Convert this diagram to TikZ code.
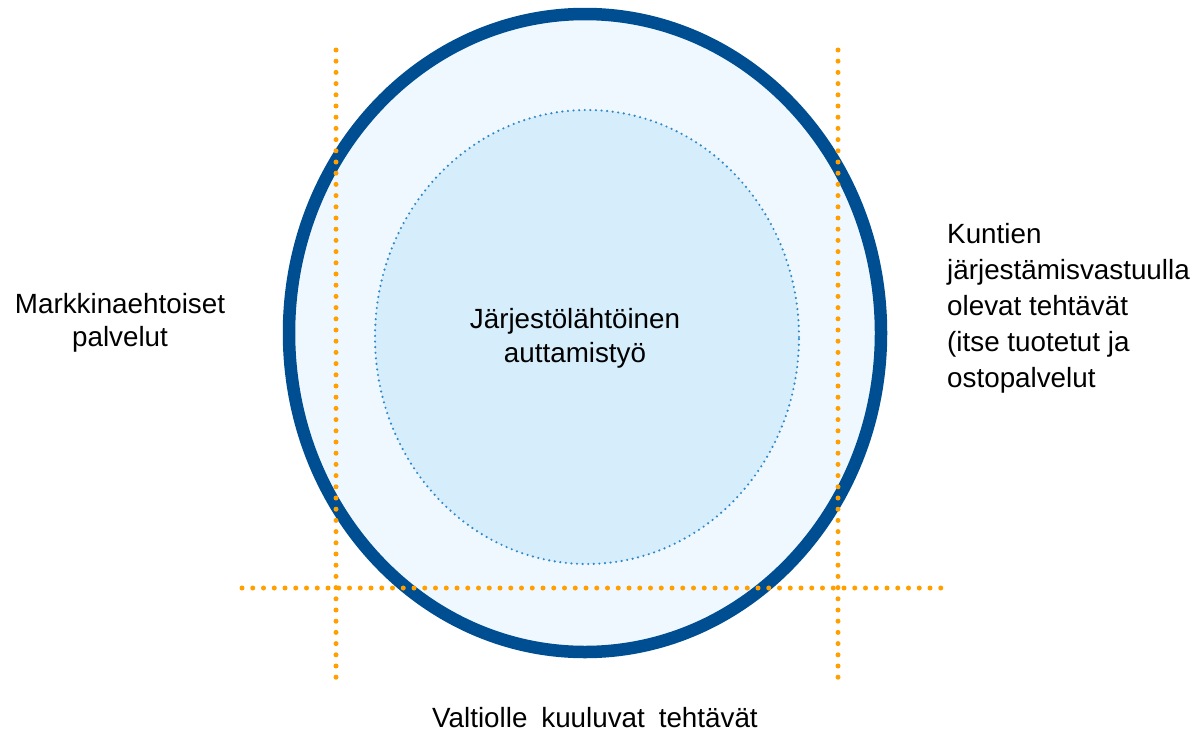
\documentclass[tikz,border=0pt]{standalone}
\usepackage{fontspec}
\setmainfont{Liberation Sans}
\definecolor{outerblue}{HTML}{004E92}
\definecolor{outerfill}{HTML}{F0F8FF}
\definecolor{innerfill}{HTML}{D6EEFC}
\definecolor{innerdot}{HTML}{2F87C8}
\definecolor{guide}{HTML}{FFA000}
\tikzset{
  guideline/.style={draw=guide, line width=5pt, line cap=round, dash pattern=on 0pt off 11.2pt},
  lbl/.style={inner sep=0pt, font=\fontsize{27.8}{36}\selectfont},
}
\begin{document}
\begin{tikzpicture}[x=1pt,y=-1pt]
\useasboundingbox (0,0) rectangle (1196,731);
% outer circle fill
\fill[outerfill] (585,333) ellipse [x radius=296pt, y radius=319pt];
% inner circle
\fill[innerfill] (587,337) ellipse [x radius=212pt, y radius=227pt];
\draw[innerdot, line width=2.4pt, line cap=round, dash pattern=on 0pt off 5.6pt] (587,337) ellipse [x radius=212pt, y radius=227pt];
% outer stroke
\draw[outerblue, line width=12.5pt] (585,333) ellipse [x radius=296pt, y radius=319pt];
% guide lines
\coordinate (l1) at (336,50);
\coordinate (l2) at (336,687);
\coordinate (r1) at (838,50);
\coordinate (r2) at (838,687);
\coordinate (h1) at (242,588);
\coordinate (h2) at (942,588);
\draw[guideline] (l1) -- (l2);
\draw[guideline] (r1) -- (r2);
\draw[guideline, dash pattern=on 0pt off 10.75pt] (h1) -- (h2);
% labels
\node[lbl, anchor=base, align=center, font=\fontsize{27.8}{33}\selectfont] (mark) at (120,346) {Markkinaehtoiset\\palvelut};
\node[lbl, anchor=base, align=center, font=\fontsize{27.8}{34}\selectfont] (jarj) at (575,362) {Järjestölähtöinen\\auttamistyö};
\node[lbl, anchor=base west, align=left] (kunt) at (947,387) {Kuntien\\järjestämisvastuulla\\olevat tehtävät\\(itse tuotetut ja\\ostopalvelut};
\node[lbl, anchor=base] (valt) at (595,727) {Valtiolle\hspace{0.5em}kuuluvat\hspace{0.5em}tehtävät};
\end{tikzpicture}
\end{document}
